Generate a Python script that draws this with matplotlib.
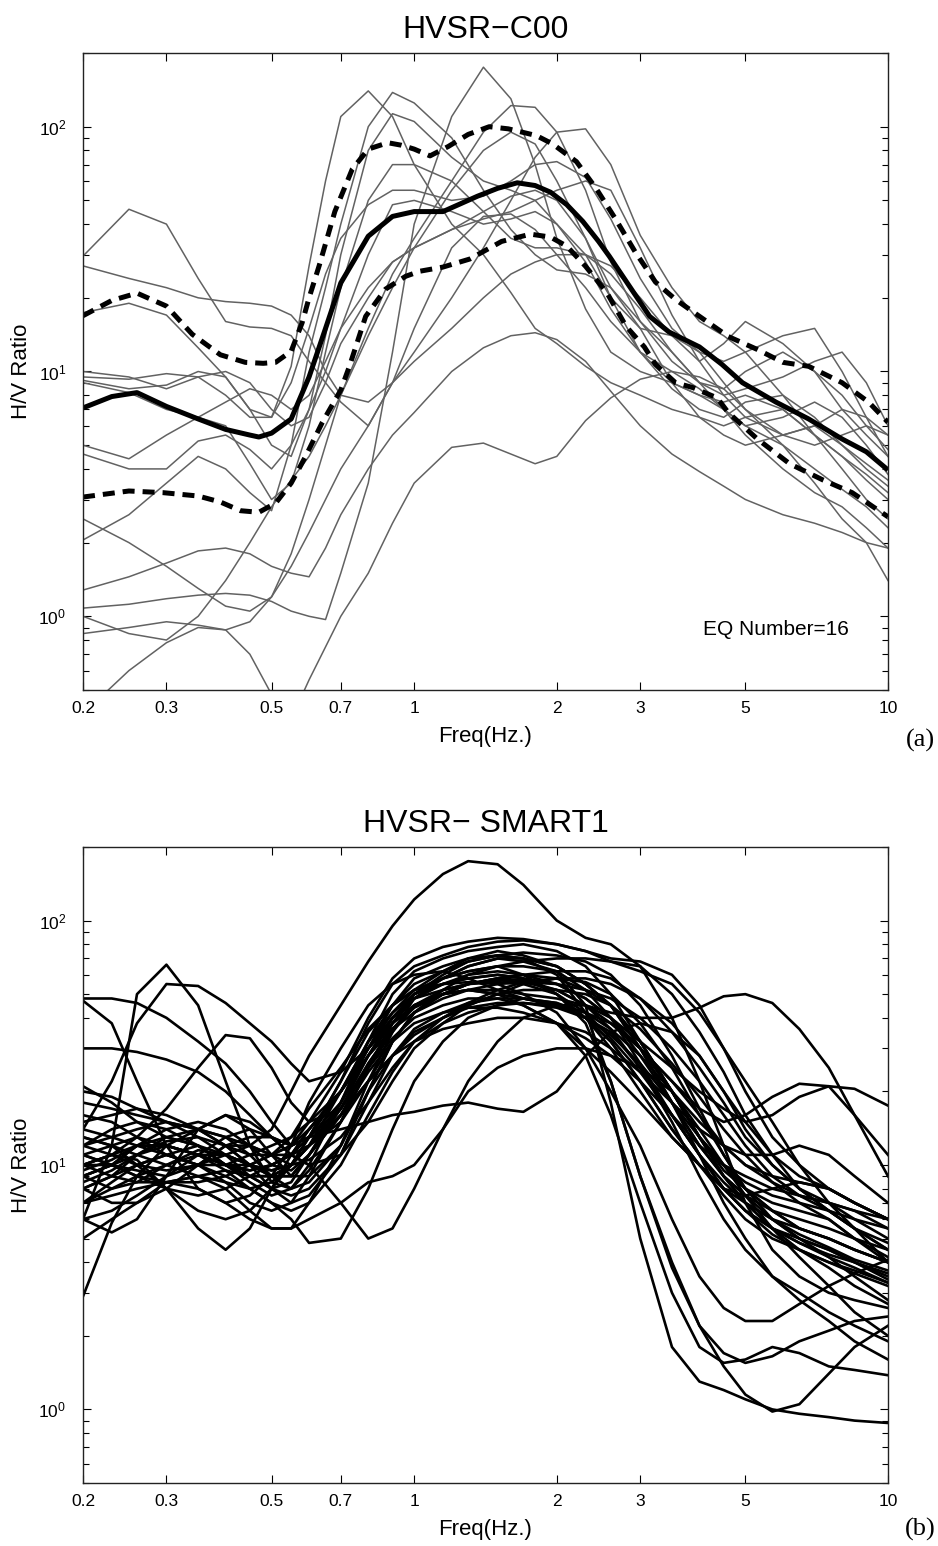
import matplotlib
matplotlib.use("Agg")
import matplotlib.pyplot as plt
from matplotlib.ticker import FixedLocator, FixedFormatter, LogLocator, NullLocator, NullFormatter

plt.rcParams['font.family'] = ['Liberation Sans', 'DejaVu Sans']
plt.rcParams['mathtext.fontset'] = 'custom'
plt.rcParams['mathtext.rm'] = 'Liberation Sans'

# ---------------- (a) HVSR-C00 : 16 events + mean / mean+-std ----------------
freq_c00 = [0.2, 0.25, 0.3, 0.35, 0.4, 0.45, 0.5, 0.55, 0.6, 0.65, 0.7, 0.8, 0.9, 1.0, 1.2, 1.4,
            1.6, 1.8, 2.0, 2.3, 2.6, 3.0, 3.5, 4.0, 4.5, 5.0, 6.0, 7.0, 8.0, 9.0, 10.0]

eq01 = [9.5, 9.3, 9.8, 9.5, 8.0, 6.5, 6.5, 10.5, 27, 60, 110, 140, 110, 70, 40, 30, 21, 15, 13, 10.5, 9, 8, 7, 6.5, 6, 6.5, 7, 5.5, 4.5, 3.8, 3.2]
eq02 = [2.05, 2.6, 3.5, 4.5, 4.0, 3.2, 2.7, 5, 12, 22, 40, 100, 138, 125, 90, 55, 38, 30, 26, 25, 22, 15, 9, 6.5, 5.5, 5, 5.5, 6, 5, 4, 3.4]
eq03 = [9.2, 8.5, 8.8, 10, 9.5, 7, 5, 4.5, 7, 14, 30, 80, 113, 105, 75, 60, 55, 50, 40, 28, 18, 12, 9, 8, 7.5, 8, 7, 5.5, 4.5, 3.6, 3.0]
eq04 = [5.0, 4.4, 5.5, 6.5, 6.0, 4.2, 3.0, 3.5, 6, 12, 22, 50, 70, 70, 60, 45, 35, 32, 32, 30, 25, 18, 12, 9, 8.5, 10, 12, 10, 7, 5.5, 4.5]
eq05 = [4.6, 4.0, 4.0, 5.2, 5.5, 4.8, 4.0, 5, 7, 10, 15, 30, 48, 50, 45, 40, 42, 45, 40, 30, 20, 15, 14, 12, 9, 7, 5.5, 5, 5.5, 6, 5.5]
eq06 = [1.08, 1.12, 1.18, 1.22, 1.24, 1.22, 1.15, 1.05, 1.0, 0.97, 1.5, 3.5, 12, 40, 110, 175, 130, 70, 35, 18, 12, 10, 9, 8, 7, 5.5, 4, 3.2, 2.8, 2.3, 1.9]
eq07 = [1.0, 0.85, 0.8, 1.0, 1.4, 2.0, 2.8, 3.6, 4.5, 6, 8, 15, 25, 35, 60, 95, 122, 120, 95, 55, 28, 16, 11, 9, 8, 8.5, 9.5, 11, 12, 9, 6]
eq08 = [0.85, 0.9, 0.95, 0.92, 0.88, 0.95, 1.2, 1.6, 2.2, 3, 4, 6, 9, 12, 20, 32, 50, 75, 95, 98, 70, 36, 22, 16, 14, 12, 8, 5.5, 4, 3, 2.5]
eq09 = [2.5, 2.0, 1.6, 1.3, 1.1, 1.05, 1.2, 1.8, 3, 5, 8, 14, 22, 32, 55, 80, 95, 85, 60, 35, 22, 16, 12, 9, 7, 6, 6.5, 7.5, 6.5, 5, 3.8]
eq10 = [17.4, 19, 17, 12.5, 9.5, 7, 6.5, 9, 15, 25, 35, 48, 55, 55, 50, 52, 60, 70, 72, 62, 42, 24, 15, 12, 11, 12, 14, 15, 10, 6.5, 4.5]
eq11 = [10, 9.5, 8.5, 9.5, 10, 9, 7, 6, 6.5, 9, 13, 20, 28, 32, 38, 45, 52, 55, 50, 35, 20, 12, 8.5, 7, 6.5, 7.5, 8, 6.5, 5, 4.2, 3.6]
eq12 = [29.6, 46, 40, 24, 16, 15.2, 15, 14, 11, 9, 7.5, 6, 9, 15, 32, 43, 44, 38, 30, 22, 16, 12, 10, 8.5, 7, 6, 5, 4, 3.3, 2.8, 2.3]
eq13 = [27, 24, 22, 20, 19.3, 19, 18.5, 17, 14, 10, 8, 7.5, 9, 11, 15, 20, 25, 28, 30, 30, 27, 20, 14, 11, 13, 16, 13, 10, 8, 6, 4.8]
eq14 = [1.28, 1.45, 1.65, 1.85, 1.9, 1.8, 1.6, 1.5, 1.45, 1.9, 2.6, 4.0, 5.5, 6.8, 10, 12.5, 14, 14.4, 13.5, 11, 8.3, 6, 4.6, 3.9, 3.4, 3, 2.6, 2.4, 2.2, 2.0, 1.9]
eq15 = [0.4, 0.6, 0.78, 0.9, 0.88, 0.7, 0.48, 0.38, 0.55, 0.75, 1.0, 1.5, 2.4, 3.5, 4.9, 5.1, 4.6, 4.2, 4.5, 6.3, 7.8, 9.3, 10, 9.5, 8.5, 7, 5, 3.5, 2.5, 2.0, 1.4]
eq16 = [9.0, 8.2, 7.0, 6.5, 7.5, 8.5, 8.0, 7.0, 8, 11, 15, 22, 28, 32, 38, 42, 45, 50, 55, 60, 55, 32, 17, 11, 8, 6.5, 5.5, 6, 7, 6.5, 5.5]
c00_events = [eq01, eq02, eq03, eq04, eq05, eq06, eq07, eq08,
              eq09, eq10, eq11, eq12, eq13, eq14, eq15, eq16]

mean_f = [0.2, 0.23, 0.26, 0.3, 0.35, 0.4, 0.45, 0.47, 0.5, 0.55, 0.6, 0.65, 0.7, 0.8, 0.9, 1.0, 1.15,
          1.36, 1.5, 1.65, 1.8, 1.94, 2.1, 2.27, 2.45, 2.58, 2.86, 3.14, 3.45, 4.0, 4.46, 4.93, 5.8,
          6.8, 8.0, 9.0, 10.0]
mean_v = [7.1, 7.9, 8.2, 7.2, 6.4, 5.8, 5.5, 5.4, 5.6, 6.4, 9.5, 15, 23, 35.7, 43, 45, 45,
          52, 56, 59, 57.5, 54, 48, 41, 34, 29.6, 22, 16.8, 14.5, 12.6, 10.7, 9.0, 7.5,
          6.4, 5.3, 4.7, 3.96]

upper_f = [0.2, 0.23, 0.26, 0.3, 0.34, 0.39, 0.44, 0.48, 0.51, 0.55, 0.58, 0.6, 0.63, 0.68, 0.74,
           0.8, 0.88, 0.94, 1.0, 1.08, 1.18, 1.3, 1.44, 1.58, 1.81, 1.96, 2.2, 2.42, 2.66, 2.93,
           3.23, 3.56, 4.0, 4.6, 5.3, 6.0, 6.8, 8.0, 9.1, 10.0]
upper_v = [16.9, 19.5, 20.9, 18.5, 14.2, 11.7, 10.9, 10.8, 10.9, 12.1, 15.8, 20, 27, 45, 67,
           81, 86, 84, 81, 76, 83, 93, 100, 98, 92, 85, 72, 56, 42, 30.7,
           23.2, 19.7, 16.8, 13.9, 12.3, 10.9, 10.5, 9.0, 7.5, 6.2]

lower_f = [0.2, 0.25, 0.295, 0.35, 0.39, 0.43, 0.47, 0.51, 0.55, 0.59, 0.64, 0.7, 0.73, 0.79, 0.87,
           0.96, 1.03, 1.15, 1.31, 1.53, 1.76, 1.94, 2.1, 2.3, 2.55, 2.8, 3.06, 3.23, 3.56, 3.87,
           4.36, 4.6, 5.3, 6.2, 7.3, 8.4, 10.0]
lower_v = [3.07, 3.25, 3.2, 3.1, 2.93, 2.7, 2.66, 2.9, 3.5, 4.5, 6.2, 8.4, 10.5, 16.8, 21.7,
           24.5, 25.7, 26.7, 28.8, 34, 36.4, 35.4, 32.5, 26.9, 21, 15.3, 12.6, 10.7, 9.0, 8.6,
           7.8, 6.8, 5.3, 4.2, 3.6, 3.2, 2.55]

# ---------------- (b) HVSR-SMART1 : all stations ----------------
freq_smart = [0.2, 0.23, 0.26, 0.3, 0.35, 0.4, 0.45, 0.5, 0.55, 0.6, 0.7, 0.8, 0.9, 1.0, 1.15, 1.3,
              1.5, 1.7, 2.0, 2.3, 2.6, 3.0, 3.5, 4.0, 4.5, 5.0, 5.7, 6.5, 7.5, 8.5, 10.0]

s01 = [12, 11, 10, 9.5, 10, 11, 12, 14, 20, 28, 45, 68, 95, 122, 155, 175, 170, 140, 100, 85, 80, 65, 40, 22, 12, 7, 4.5, 3.5, 3.0, 2.8, 2.6]
s02 = [48, 48, 46, 40, 32, 26, 20, 15, 12, 13, 18, 28, 40, 50, 58, 62, 65, 60, 50, 40, 30, 20, 13, 10, 8, 7, 6, 5, 4.5, 4, 3.5]
s03 = [47, 38, 22, 12, 8, 7, 7.5, 9, 12, 18, 30, 45, 55, 60, 62, 58, 52, 48, 45, 40, 35, 25, 15, 9, 6, 4.5, 3.5, 3, 2.5, 2.2, 1.9]
s04 = [6, 12, 50, 66, 45, 22, 12, 8.5, 8, 9.5, 15, 25, 38, 48, 52, 55, 58, 60, 58, 52, 45, 32, 20, 13, 9.5, 8, 7, 6.5, 6, 5, 4]
s05 = [14, 22, 38, 55, 54, 46, 38, 32, 26, 22, 24, 30, 38, 45, 50, 52, 50, 45, 38, 30, 24, 18, 13, 10, 8, 6.5, 5.5, 4.8, 4.2, 3.8, 3.3]
s06 = [30, 30, 29, 27, 24, 20, 16, 13, 11, 12, 17, 26, 36, 45, 52, 55, 56, 55, 50, 42, 33, 24, 16, 11, 8, 6.5, 5.5, 5, 4.5, 4, 3.4]
s07 = [21, 18, 15, 13, 14, 16, 15, 13, 12, 14, 20, 30, 40, 48, 55, 60, 62, 60, 55, 48, 40, 28, 18, 12, 9, 7.5, 6.5, 6, 5.5, 5, 4.5]
s08 = [10, 11, 13, 17, 25, 34, 33, 25, 18, 15, 17, 25, 35, 45, 50, 52, 50, 48, 45, 40, 32, 22, 14, 10, 7.5, 6, 5, 4.5, 4, 3.7, 3.3]
s09 = [2.9, 5.8, 9, 12, 14, 13, 11, 9, 8, 8.5, 12, 20, 32, 42, 50, 55, 58, 57, 52, 45, 36, 25, 16, 11, 8, 6.5, 5.2, 4.5, 4, 3.6, 3.2]
s10 = [6, 5.3, 6, 9, 14, 16, 14, 11, 9, 9, 12, 22, 35, 48, 58, 65, 70, 70, 65, 55, 45, 32, 20, 13, 9, 7, 5.5, 4.8, 4.3, 4, 3.6]
s11 = [10, 11, 10.5, 8, 5.5, 4.5, 5.5, 8, 11, 14, 20, 30, 42, 52, 62, 70, 75, 72, 65, 55, 45, 30, 18, 12, 9, 7.5, 6, 5.2, 4.6, 4.1, 3.7]
s12 = [14, 13, 12, 11, 10, 9, 8, 7, 6, 4.8, 5, 8, 14, 22, 32, 40, 45, 48, 46, 40, 32, 22, 14, 10, 8, 7.5, 8, 8.5, 8, 7, 6]
s13 = [9, 10, 11, 12, 11, 10, 9.5, 10, 11, 10, 7, 5, 5.5, 8, 14, 20, 25, 28, 30, 30, 28, 25, 20, 15, 12, 10, 9, 8.5, 8, 7, 6]
s14 = [8, 9, 11, 13, 12, 10, 8.5, 7.5, 8, 10, 18, 32, 50, 62, 70, 75, 78, 80, 75, 65, 50, 32, 20, 13, 10, 8, 6.5, 5.5, 5, 4.5, 4]
s15 = [12, 14, 15, 14, 12, 10, 9, 9, 10, 13, 22, 38, 55, 65, 72, 78, 82, 83, 80, 75, 68, 65, 50, 35, 24, 16, 11, 8, 6.5, 5.5, 4.5]
s16 = [9, 8, 8.5, 10, 11.5, 11, 10, 9, 9, 11, 17, 28, 40, 50, 58, 65, 70, 68, 62, 52, 40, 26, 16, 11, 8.5, 7, 6, 5.5, 5, 4.5, 4]
s17 = [11, 12, 13, 12, 11, 10, 10, 11, 13, 17, 25, 36, 45, 52, 58, 62, 65, 65, 62, 45, 18, 5, 1.8, 1.3, 1.2, 1.1, 1.0, 0.96, 0.93, 0.9, 0.88]
s18 = [8, 9, 10, 11, 12, 11, 10, 9.5, 10, 12, 20, 32, 45, 55, 62, 68, 72, 70, 60, 42, 22, 9, 4, 2.2, 1.5, 1.15, 0.98, 1.05, 1.4, 1.8, 2.2]
s19 = [10, 10, 9.5, 9, 10, 12, 12, 11, 11, 13, 20, 32, 42, 50, 55, 58, 60, 58, 50, 38, 22, 9, 3.8, 2.2, 1.7, 1.55, 1.65, 1.9, 2.1, 2.3, 2.4]
s20 = [13, 12, 11, 10, 9, 8.5, 8, 8.5, 10, 13, 22, 35, 45, 52, 55, 56, 55, 50, 42, 30, 20, 12, 6, 3.5, 2.6, 2.3, 2.3, 2.7, 3.2, 3.6, 4.1]
s21 = [8, 7, 7, 8, 10, 12, 13, 13, 12, 13, 17, 25, 33, 40, 45, 48, 48, 45, 38, 28, 16, 7, 3, 1.8, 1.55, 1.6, 1.8, 1.7, 1.5, 1.45, 1.38]
s22 = [9, 10, 12, 13, 12, 10, 9, 9, 10, 12, 18, 28, 38, 45, 50, 52, 52, 50, 48, 45, 42, 40, 40, 44, 49, 50, 46, 36, 25, 16, 9]
s23 = [10, 11, 12, 12, 11, 10, 9.5, 10, 11, 14, 20, 30, 40, 48, 55, 58, 60, 58, 55, 48, 40, 32, 25, 20, 17, 15, 16, 19, 21, 20.5, 17.5]
s24 = [7, 8, 9, 10, 11, 11, 10, 9, 9, 11, 16, 26, 36, 44, 50, 55, 57, 56, 52, 45, 38, 30, 22, 17, 15, 16, 19, 21.5, 21, 16, 11]
s25 = [11, 10, 9, 8.5, 8.5, 9, 10, 11, 12, 13, 14, 15, 16, 16.5, 17.5, 18, 17, 16.5, 20, 28, 35, 38, 35, 28, 20, 14, 10, 8, 6.5, 5.5, 4.8]
s26 = [7, 7.5, 8, 8.5, 8, 7, 6, 5.5, 5.5, 6, 7, 8.5, 9, 10, 14, 22, 32, 40, 45, 45, 40, 30, 20, 13, 9, 7, 5.5, 4.5, 3.8, 3.2, 2.7]
s27 = [15, 16, 17, 16, 14, 12, 11, 11, 12, 15, 24, 40, 58, 70, 78, 82, 85, 84, 80, 75, 70, 68, 60, 45, 30, 20, 13, 10, 8, 7, 6]
s28 = [7, 8.5, 10, 11, 10, 8.5, 7, 6.5, 7, 9, 15, 25, 38, 50, 60, 68, 72, 74, 72, 68, 60, 45, 28, 17, 11, 8, 6, 5, 4.2, 3.5, 2.8]
s29 = [16, 15, 13, 11, 10, 10, 11, 12, 13, 15, 20, 28, 36, 42, 48, 52, 55, 56, 55, 52, 48, 40, 30, 22, 16, 12, 9, 7.5, 6.5, 5.5, 4.5]
s30 = [10, 9, 8.5, 8.5, 9, 9.5, 9, 8, 7.5, 8, 11, 18, 28, 36, 42, 46, 48, 48, 46, 42, 36, 28, 20, 14, 10, 7.5, 5.5, 4.2, 3.2, 2.5, 2.0]
s31 = [20, 19, 17, 15, 13, 11, 9, 8, 8.5, 11, 18, 30, 45, 58, 65, 70, 72, 70, 65, 55, 45, 30, 18, 11, 7, 5, 3.5, 2.8, 2.3, 1.9, 1.6]
s32 = [8.5, 9.5, 11, 12.5, 13, 12, 10, 8, 7, 7.5, 11, 20, 32, 42, 50, 55, 58, 60, 62, 62, 58, 48, 35, 25, 18, 13, 10, 8, 7, 6.5, 5.5]
s33 = [12, 13, 14, 15, 14, 12, 10, 9.5, 10, 12, 16, 22, 28, 32, 36, 38, 40, 40, 38, 35, 30, 24, 18, 14, 12, 11, 11, 12, 11, 9, 7]
s34 = [9, 10, 12, 14, 15, 14, 12, 10, 9.5, 11, 16, 24, 32, 38, 42, 44, 44, 42, 38, 33, 28, 22, 16, 12, 10, 9, 8, 7.5, 7, 6, 5]
s35 = [11, 10, 9, 8, 7.5, 8, 9, 10, 11, 12, 15, 22, 32, 42, 52, 60, 65, 68, 70, 70, 68, 62, 55, 42, 30, 22, 15, 10, 7, 5.5, 4]
s36 = [13, 12, 10, 8, 6.5, 6, 6.5, 8, 10, 12, 16, 22, 28, 34, 40, 45, 50, 52, 52, 50, 45, 36, 26, 19, 14, 11, 8.5, 7, 6, 5, 4.2]
s37 = [6, 6.5, 7.5, 9, 11, 13, 14, 13, 11, 10, 11, 15, 22, 30, 38, 45, 50, 55, 58, 58, 55, 48, 38, 28, 20, 15, 11, 9, 8, 7, 6]
s38 = [5, 6, 7, 8.5, 9, 8, 6.5, 5.5, 5.5, 7, 12, 20, 28, 35, 40, 44, 46, 46, 44, 40, 34, 26, 18, 13, 10, 8.5, 7.5, 7, 6.5, 6, 5.5]
s39 = [18, 17, 16, 15, 14, 13, 12, 11, 10, 10.5, 13, 18, 25, 32, 38, 42, 45, 46, 45, 42, 38, 30, 22, 16, 12, 10, 8.5, 7.5, 7, 6.5, 6]
s40 = [9.5, 10.5, 12, 12, 11, 9.5, 8, 7, 6.5, 7, 10, 16, 24, 32, 40, 46, 52, 56, 58, 56, 50, 38, 25, 16, 11, 8, 6.5, 5.5, 5, 4.5, 4]
smart_stations = [s01, s02, s03, s04, s05, s06, s07, s08, s09, s10, s11, s12, s13, s14, s15, s16,
                  s17, s18, s19, s20, s21, s22, s23, s24, s25, s26, s27, s28, s29, s30, s31, s32,
                  s33, s34, s35, s36, s37, s38, s39, s40]

xticks = [0.2, 0.3, 0.5, 0.7, 1, 2, 3, 5, 10]
xtick_labels = ["0.2", "0.3", "0.5", "0.7", "1", "2", "3", "5", "10"]
yticks = [1, 10, 100]
ytick_labels = [r"$\mathregular{10^{0}}$", r"$\mathregular{10^{1}}$", r"$\mathregular{10^{2}}$"]


def style_axis(ax, title):
    ax.set_xscale("log")
    ax.set_yscale("log")
    ax.set_xlim(0.2, 10)
    ax.set_ylim(0.5, 200)
    ax.xaxis.set_major_locator(FixedLocator(xticks))
    ax.xaxis.set_major_formatter(FixedFormatter(xtick_labels))
    ax.xaxis.set_minor_locator(NullLocator())
    ax.yaxis.set_major_locator(FixedLocator(yticks))
    ax.yaxis.set_major_formatter(FixedFormatter(ytick_labels))
    ax.yaxis.set_minor_locator(LogLocator(base=10, subs=range(2, 10)))
    ax.yaxis.set_minor_formatter(NullFormatter())
    ax.tick_params(which="both", direction="in", top=True, right=True, width=0.8)
    ax.tick_params(which="major", length=5.5, labelsize=12.5)
    ax.tick_params(which="minor", length=4)
    ax.tick_params(axis="x", pad=8)
    ax.tick_params(axis="y", pad=12)
    for sp in ax.spines.values():
        sp.set_linewidth(1.0)
        sp.set_color("#222222")
    ax.set_xlabel("Freq(Hz.)", fontsize=16)
    ax.set_ylabel("H/V Ratio", fontsize=16)
    ax.xaxis.set_label_coords(0.5, -0.057)
    ax.yaxis.set_label_coords(-0.063, 0.5)
    ax.set_title(title, fontsize=23, pad=11)


fig = plt.figure(figsize=(9.38, 15.46), dpi=100)
ax1 = fig.add_axes([83 / 938, 1 - 690 / 1546, 805 / 938, 637 / 1546])
ax2 = fig.add_axes([83 / 938, 1 - 1483 / 1546, 805 / 938, 636 / 1546])

# (a) single events in gray, statistics in black
for ev in c00_events:
    ax1.plot(freq_c00, ev, color="#626262", lw=1.1)
ax1.plot(mean_f, mean_v, color="black", lw=3.6, solid_capstyle="butt")
ax1.plot(upper_f, upper_v, color="black", lw=3.6, dashes=(2.4, 1.6))
ax1.plot(lower_f, lower_v, color="black", lw=3.6, dashes=(2.4, 1.6))
ax1.text(0.770, 0.086, "EQ Number=16", transform=ax1.transAxes, fontsize=15,
         ha="left", va="baseline")
style_axis(ax1, "HVSR\u2212C00")

# (b) every station of the array
for st in smart_stations:
    ax2.plot(freq_smart, st, color="black", lw=1.9)
style_axis(ax2, "HVSR\u2212 SMART1")

fig.text(920 / 938, 1 - 740 / 1546, "(a)", family="Liberation Serif", fontsize=19,
         ha="center", va="center")
fig.text(920 / 938, 1 - 1529 / 1546, "(b)", family="Liberation Serif", fontsize=19,
         ha="center", va="center")

plt.savefig("out.png", dpi=100)
